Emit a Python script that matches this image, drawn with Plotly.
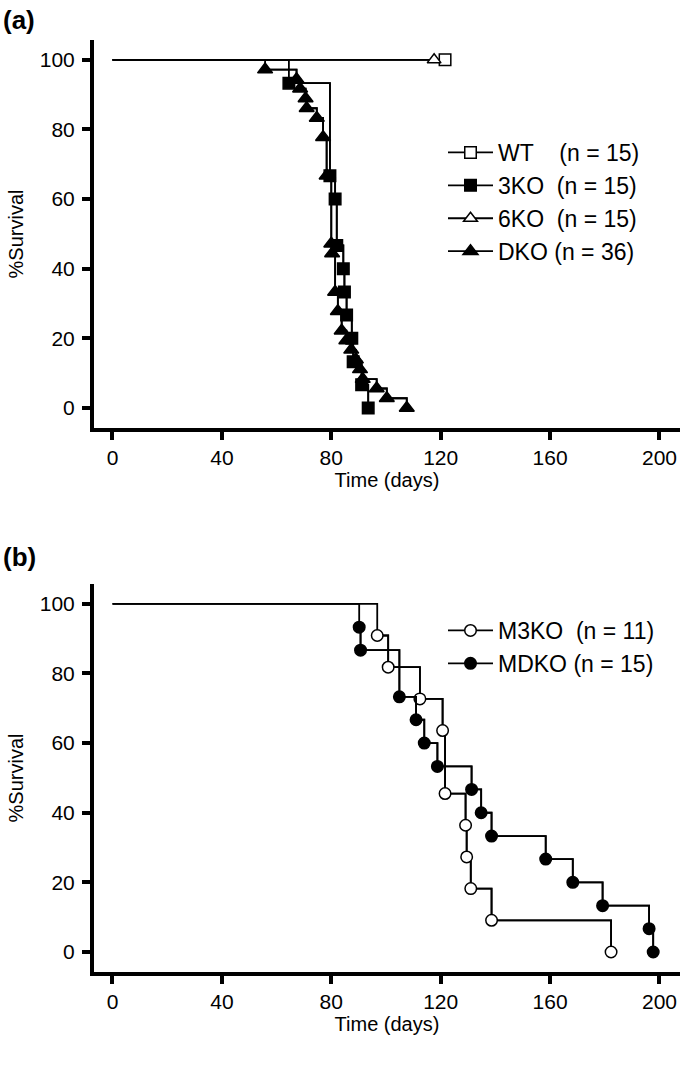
import plotly.graph_objects as go

# ---------------- data (a) ----------------
wt_days = [121.6]
wt_surv = [100.0]
ko6_days = [117.6]
ko6_surv = [100.0]

ko3_days = [64.5, 79.5, 81.4, 82.0, 84.4, 84.8, 85.6, 87.5, 88.0, 91.1, 93.5]
ko3_surv = [93.3, 66.7, 60.0, 46.7, 40.0, 33.3, 26.7, 20.0, 13.3, 6.7, 0.0]

dko_days = [55.8, 67.3, 68.6, 70.6, 71.0, 74.7, 77.0, 78.3, 80.0, 80.3, 81.4, 82.4,
            83.8, 85.5, 87.3, 89.0, 90.5, 91.5, 96.6, 100.3, 107.6]
dko_surv = [97.2, 94.4, 91.7, 88.9, 86.1, 83.3, 77.8, 66.7, 47.2, 44.4, 33.3, 27.8,
            22.2, 19.4, 16.7, 13.9, 11.1, 8.3, 5.6, 2.8, 0.0]

# ---------------- data (b) ----------------
m3ko_days = [96.8, 100.8, 112.4, 120.7, 121.6, 129.1, 129.5, 131.0, 138.6, 182.3]
m3ko_surv = [90.9, 81.8, 72.7, 63.6, 45.5, 36.4, 27.3, 18.2, 9.1, 0.0]

mdko_days = [90.2, 90.7, 104.9, 111.0, 114.0, 118.8, 131.3, 134.8, 138.6, 158.4,
             168.3, 179.2, 196.2, 197.7]
mdko_surv = [93.3, 86.7, 73.3, 66.7, 60.0, 53.3, 46.7, 40.0, 33.3, 26.7,
             20.0, 13.3, 6.7, 0.0]

x_ticks = [0, 40, 80, 120, 160, 200]
y_ticks = [0, 20, 40, 60, 80, 100]

FONT = "Arial, Liberation Sans, sans-serif"

fig = go.Figure()


def add_group(days, surv, name, symbol, size, filled, xa, ya, legend):
    mcolor = "black" if filled else "white"
    # full step line starting at 100% on day 0
    fig.add_trace(go.Scatter(
        x=[0] + days, y=[100] + surv, mode="lines", line_shape="hv",
        line=dict(color="black", width=1.8), showlegend=False,
        xaxis=xa, yaxis=ya, hoverinfo="skip"))
    fig.add_trace(go.Scatter(
        x=days, y=surv, mode="lines+markers", line_shape="hv", name=name,
        line=dict(color="black", width=1.8),
        marker=dict(symbol=symbol, size=size, color=mcolor,
                    line=dict(color="black", width=1.5)),
        xaxis=xa, yaxis=ya, legend=legend))


NB = "\u00a0"
add_group(wt_days, wt_surv, "WT" + NB * 4 + "(n = 15)", "square", 11.5, False, "x", "y", "legend")
add_group(ko3_days, ko3_surv, "3KO" + NB * 2 + "(n = 15)", "square", 11.5, True, "x", "y", "legend")
add_group(ko6_days, ko6_surv, "6KO" + NB * 2 + "(n = 15)", "triangle-up", 12, False, "x", "y", "legend")
add_group(dko_days, dko_surv, "DKO" + NB + "(n = 36)", "triangle-up", 13, True, "x", "y", "legend")

add_group(m3ko_days, m3ko_surv, "M3KO" + NB * 2 + "(n = 11)", "circle", 11.5, False, "x2", "y2", "legend2")
add_group(mdko_days, mdko_surv, "MDKO" + NB + "(n = 15)", "circle", 11.5, True, "x2", "y2", "legend2")

TOP, BOT, H = 40, 93, 1065
LEFT, RIGHT, W = 94, 5, 685
PH = H - TOP - BOT
PW = W - LEFT - RIGHT


def py(pix):
    return (H - BOT - pix) / PH


def px(pix):
    return (pix - LEFT) / PW


TF = 21
TT = 20
axis_common = dict(showline=True, linewidth=4, linecolor="black", ticks="outside",
                   ticklen=8, tickwidth=3.5, tickcolor="black", showgrid=False,
                   zeroline=False, tickfont=dict(family=FONT, size=TF, color="black"))

xcommon = dict(axis_common, range=[-6.76, 207.5], tickvals=x_ticks, ticklabelstandoff=0,
               title=dict(text="Time (days)", font=dict(family=FONT, size=TT, color="black"),
                          standoff=6))
ycommon = dict(axis_common, range=[-5.75, 105.7], tickvals=y_ticks, ticklabelstandoff=3,
               title=dict(text="%Survival", font=dict(family=FONT, size=TT, color="black"),
                          standoff=12))

legend_common = dict(xanchor="left", yanchor="top", bgcolor="rgba(0,0,0,0)",
                     font=dict(family=FONT, size=23, color="black"),
                     tracegroupgap=0, itemwidth=45)

fig.update_layout(
    width=W, height=H,
    margin=dict(l=LEFT, r=RIGHT, t=TOP, b=BOT),
    paper_bgcolor="white", plot_bgcolor="white",
    font=dict(family=FONT, size=TF, color="black"),
    xaxis=dict(xcommon, domain=[0, 1], anchor="y"),
    yaxis=dict(ycommon, domain=[py(428), 1], anchor="x"),
    xaxis2=dict(xcommon, domain=[0, 1], anchor="y2"),
    yaxis2=dict(ycommon, domain=[0, py(584)], anchor="x2"),
    legend=dict(legend_common, x=px(443), y=py(131)),
    legend2=dict(legend_common, x=px(443), y=py(609)),
    annotations=[
        dict(text="<b>(a)</b>", xref="paper", yref="paper", x=px(1), y=py(20),
             xanchor="left", yanchor="middle", showarrow=False,
             font=dict(family=FONT, size=26, color="black")),
        dict(text="<b>(b)</b>", xref="paper", yref="paper", x=px(1), y=py(557),
             xanchor="left", yanchor="middle", showarrow=False,
             font=dict(family=FONT, size=26, color="black")),
    ],
)

fig.write_html("out.html", config={"displayModeBar": False},
               post_script="document.body.style.margin='0px';")
